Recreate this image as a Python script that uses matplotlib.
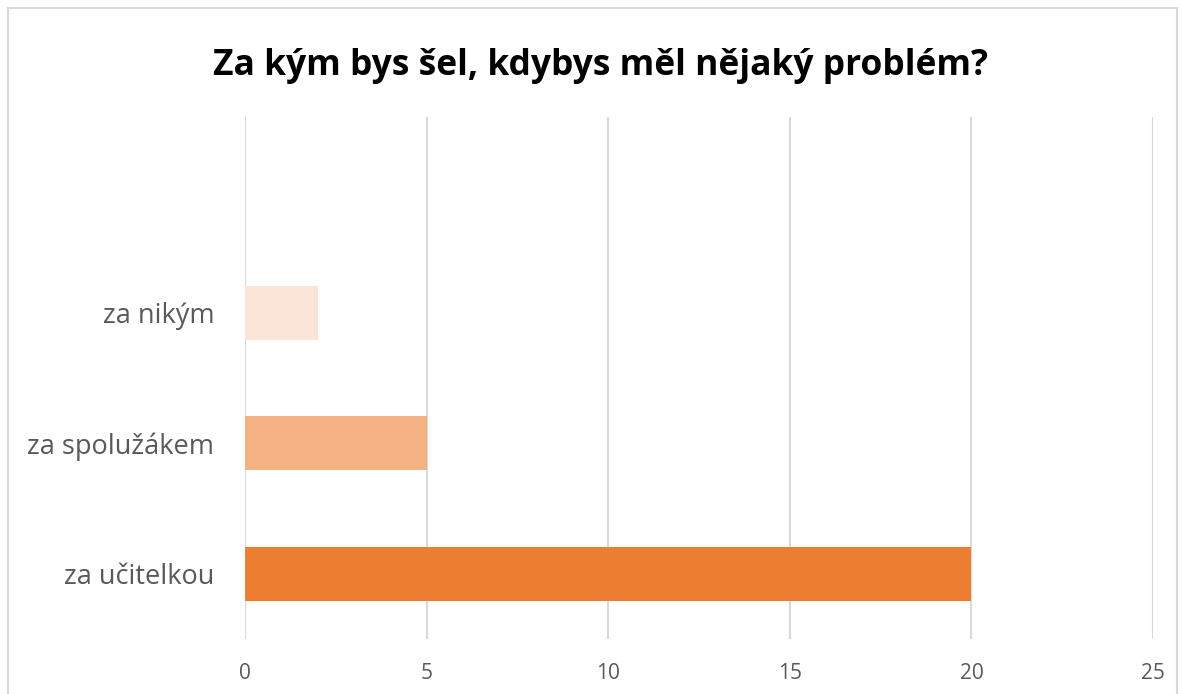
import matplotlib
matplotlib.use("Agg")
import matplotlib.pyplot as plt
from matplotlib.patches import Rectangle

categories = ["za učitelkou", "za spolužákem", "za nikým"]
values = [20, 5, 2]
colors = ["#ED7D31", "#F4B183", "#FBE5D6"]
xticks = [0, 5, 10, 15, 20, 25]
title = "Za kým bys šel, kdybys měl nějaký problém?"

plt.rcParams['font.family'] = ['Open Sans', 'DejaVu Sans']

W, H = 1182, 694
fig = plt.figure(figsize=(W/100, H/100), dpi=100)
fig.patch.set_facecolor("white")
fig.patches.append(Rectangle((8/W, -0.05), (1177-8)/W, 1 - 8/H + 0.05,
                             transform=fig.transFigure, fill=False,
                             edgecolor="#D9D9D9", linewidth=1.5))

ax = fig.add_axes([245/W, 1-639/H, (1153-245)/W, (639-117)/H])
ypos = list(range(len(categories)))
ax.barh(ypos, values, height=0.41, color=colors, zorder=3)
ax.set_xlim(0, 25)
ax.set_ylim(-0.5, 3.5)
ax.set_xticks(xticks)
ax.set_xticklabels([str(t) for t in xticks])
ax.set_yticks(ypos)
ax.set_yticklabels(categories)
ax.grid(axis="x", color="#D9D9D9", linewidth=1.5, zorder=0)
for s in ax.spines.values():
    s.set_visible(False)
ax.tick_params(axis="both", length=0, labelcolor="#595959")
ax.tick_params(axis="x", pad=17, labelsize=15)
ax.tick_params(axis="y", pad=22, labelsize=19.5)

fig.text(601/W, 1-66/H, title, ha="center", va="center",
         fontsize=25.5, fontweight="bold", color="black")

fig.savefig("out.png", dpi=100)
